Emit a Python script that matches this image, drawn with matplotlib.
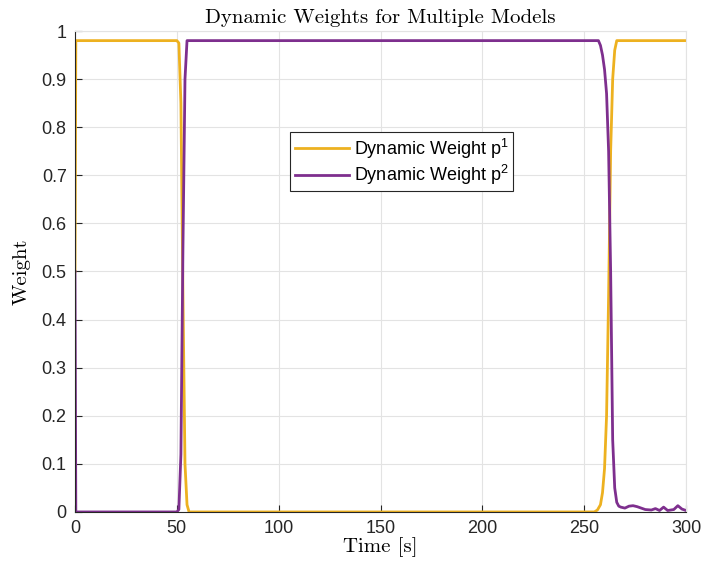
import matplotlib
matplotlib.use("Agg")
import matplotlib.pyplot as plt

plt.rcParams['font.family'] = ['Liberation Sans', 'DejaVu Sans']
plt.rcParams['mathtext.fontset'] = 'custom'
plt.rcParams['mathtext.rm'] = 'Liberation Sans'
plt.rcParams['mathtext.it'] = 'Liberation Sans:italic'

# time / weight points
t1 = [0, 0.4, 50, 51, 52, 53, 54, 55, 56, 255, 256.5, 258, 259, 260, 261, 262,
      263, 264, 265, 266, 300]
p1 = [0.5, 0.98, 0.98, 0.975, 0.85, 0.45, 0.1, 0.015, 0.0, 0.0, 0.004, 0.015,
      0.04, 0.09, 0.2, 0.45, 0.75, 0.9, 0.96, 0.98, 0.98]

t2 = [0, 0.4, 50, 51, 52, 53, 54, 55, 257, 258, 259, 260, 261, 262, 263, 264,
      265, 266, 267, 268, 270, 272, 274, 276, 278, 280, 283, 285, 287, 289,
      291, 294, 296, 298, 300]
p2 = [0.5, 0.0, 0.0, 0.005, 0.12, 0.55, 0.9, 0.98, 0.98, 0.97, 0.95, 0.92,
      0.87, 0.75, 0.5, 0.15, 0.05, 0.02, 0.012, 0.01, 0.008, 0.012, 0.013,
      0.011, 0.008, 0.005, 0.004, 0.007, 0.003, 0.01, 0.003, 0.005, 0.013,
      0.006, 0.003]

xticks = [0, 50, 100, 150, 200, 250, 300]
yticks = [0, 0.1, 0.2, 0.3, 0.4, 0.5, 0.6, 0.7, 0.8, 0.9, 1]
ylabels = ['0', '0.1', '0.2', '0.3', '0.4', '0.5', '0.6', '0.7', '0.8', '0.9', '1']

fig = plt.figure(figsize=(7.01, 5.72), dpi=100)
ax = fig.add_axes([0.107, 0.105, 0.8716, 0.8408])

ax.plot(t1, p1, color='#EDB120', lw=2.0, label=r'Dynamic Weight p$^{\mathrm{1}}$')
ax.plot(t2, p2, color='#7E2F8E', lw=2.0, label=r'Dynamic Weight p$^{\mathrm{2}}$')

ax.set_xlim(0, 300)
ax.set_ylim(0, 1)
ax.set_xticks(xticks)
ax.set_yticks(yticks)
ax.set_yticklabels(ylabels)
ax.tick_params(direction='in', length=5, width=0.8, colors='#262626',
               labelsize=13, top=False, right=False, pad=6)
ax.grid(True, color='#e3e3e3', lw=0.8)
ax.set_axisbelow(True)
for s in ['left', 'bottom']:
    ax.spines[s].set_color('#262626')
    ax.spines[s].set_linewidth(0.8)
for s in ['top', 'right']:
    ax.spines[s].set_color('#e3e3e3')
    ax.spines[s].set_linewidth(0.8)

ax.set_title('Dynamic Weights for Multiple Models', family='cmr10', fontsize=15, pad=6)
ax.set_xlabel('Time [s]', family='cmr10', fontsize=15, labelpad=0)
ax.set_ylabel('Weight', family='cmr10', fontsize=15, labelpad=8)

leg = ax.legend(loc='upper left', bbox_to_anchor=(0.352, 0.79), fontsize=13,
                fancybox=False, framealpha=1, edgecolor='#262626',
                handlelength=3.0, handletextpad=0.3, borderpad=0.25,
                labelspacing=0.12, borderaxespad=0)
leg.get_frame().set_linewidth(0.8)

fig.savefig('out.png', dpi=100)
